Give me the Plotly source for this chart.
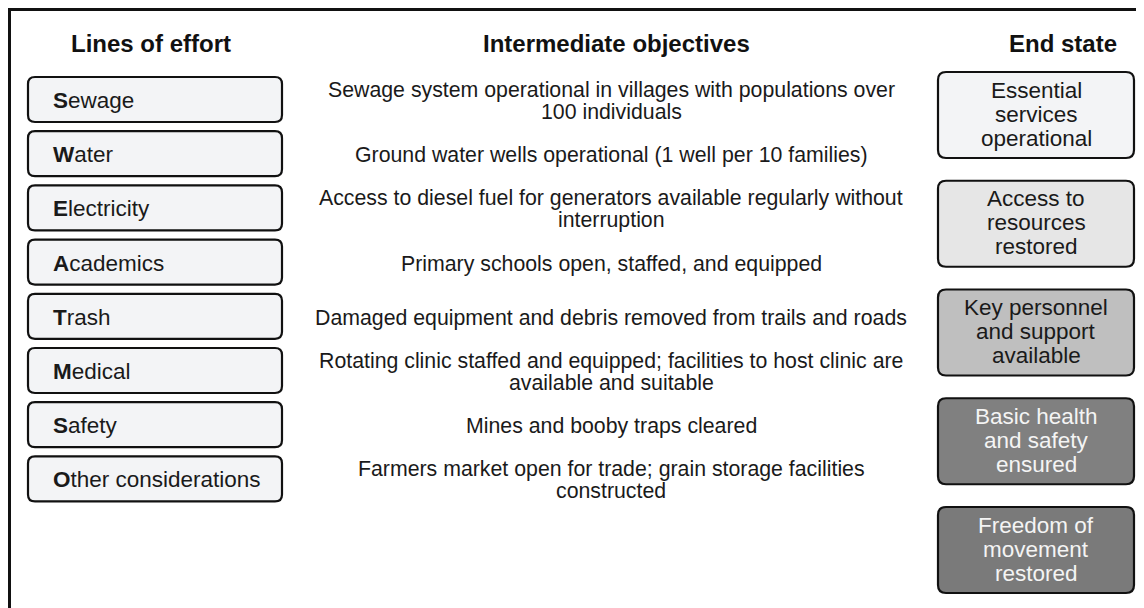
import plotly.graph_objects as go

# ---- data ----
column_headers = ["Lines of effort", "Intermediate objectives", "End state"]
lines_of_effort = ["Sewage", "Water", "Electricity", "Academics", "Trash",
                   "Medical", "Safety", "Other considerations"]
objectives = [
    "Sewage system operational in villages with populations over<br>100 individuals",
    "Ground water wells operational (1 well per 10 families)",
    "Access to diesel fuel for generators available regularly without<br>interruption",
    "Primary schools open, staffed, and equipped",
    "Damaged equipment and debris removed from trails and roads",
    "Rotating clinic staffed and equipped; facilities to host clinic are<br>available and suitable",
    "Mines and booby traps cleared",
    "Farmers market open for trade; grain storage facilities<br>constructed",
]
end_states = [
    "Essential<br>services<br>operational",
    "Access to<br>resources<br>restored",
    "Key personnel<br>and support<br>available",
    "Basic health<br>and safety<br>ensured",
    "Freedom of<br>movement<br>restored",
]
end_state_fills = ["#f3f4f6", "#e6e6e6", "#bfbfbf", "#808080", "#7a7a7a"]
end_state_text = ["#1a1a1a", "#1a1a1a", "#1a1a1a", "#f4f4f4", "#f4f4f4"]

FONT = "Arial, Liberation Sans, Helvetica, sans-serif"
W, H = 1144, 608
OFF = 8  # page body margin


def rrect(x0, y0, x1, y1, r=7):
    return (f"M {x0+r},{y0} L {x1-r},{y0} Q {x1},{y0} {x1},{y0+r} "
            f"L {x1},{y1-r} Q {x1},{y1} {x1-r},{y1} L {x0+r},{y1} "
            f"Q {x0},{y1} {x0},{y1-r} L {x0},{y0+r} Q {x0},{y0} {x0+r},{y0} Z")


shapes = []
annotations = []

# outer frame (top and left edges visible)
shapes.append(dict(type="path", path=f"M 9.5,{H+5} L 9.5,9.5 L {W+5},9.5",
                   line=dict(color="#111111", width=3), xref="x", yref="y"))

# headers
header_x = [151, 616, 1063]
for t, x in zip(column_headers, header_x):
    annotations.append(dict(x=x, y=43, text=f"<b>{t}</b>", showarrow=False,
                            xanchor="center", yanchor="middle",
                            font=dict(family=FONT, size=24, color="#111111")))

# left boxes + middle text
row_top0, pitch, bh = 77, 54.2, 45
for i, (name, obj) in enumerate(zip(lines_of_effort, objectives)):
    y0 = row_top0 + i * pitch
    y1 = y0 + bh
    yc = (y0 + y1) / 2
    shapes.append(dict(type="path", path=rrect(28, y0, 282, y1, 7),
                       fillcolor="#f3f4f6", line=dict(color="#111111", width=2.2),
                       xref="x", yref="y"))
    annotations.append(dict(x=51, y=yc + 1, text=f"<b>{name[0]}</b>{name[1:]}",
                            showarrow=False, xanchor="left", yanchor="middle",
                            font=dict(family=FONT, size=22.5, color="#1a1a1a")))
    parts = obj.split("<br>")
    n = len(parts)
    for k, p in enumerate(parts):
        ly = yc + 1.5 + (k - (n - 1) / 2) * 22
        annotations.append(dict(x=611, y=ly, text=p, showarrow=False,
                                xanchor="center", yanchor="middle",
                                font=dict(family=FONT, size=21.3, color="#1a1a1a")))

# right boxes
rtop0, rpitch, rh = 72, 108.75, 86
for i, (txt, fc, tc) in enumerate(zip(end_states, end_state_fills, end_state_text)):
    y0 = rtop0 + i * rpitch
    y1 = y0 + rh
    yc = (y0 + y1) / 2
    shapes.append(dict(type="path", path=rrect(938, y0, 1134, y1, 8),
                       fillcolor=fc, line=dict(color="#111111", width=2.2),
                       xref="x", yref="y"))
    parts = txt.split("<br>")
    n = len(parts)
    for k, p in enumerate(parts):
        ly = yc - 1 + (k - (n - 1) / 2) * 24
        annotations.append(dict(x=1036, y=ly, text=p, showarrow=False,
                                xanchor="center", yanchor="middle",
                                font=dict(family=FONT, size=22.5, color=tc)))

fig = go.Figure()
fig.add_trace(go.Scatter(x=[OFF, W], y=[OFF, H], mode="markers",
                         marker=dict(opacity=0), hoverinfo="skip", showlegend=False))
fig.update_layout(
    width=W - OFF, height=H - OFF, margin=dict(l=0, r=0, t=0, b=0),
    paper_bgcolor="white", plot_bgcolor="white",
    xaxis=dict(range=[OFF, W], visible=False, fixedrange=True),
    yaxis=dict(range=[H, OFF], visible=False, fixedrange=True),
    shapes=shapes, annotations=annotations, showlegend=False,
)
fig.write_html("out.html")
